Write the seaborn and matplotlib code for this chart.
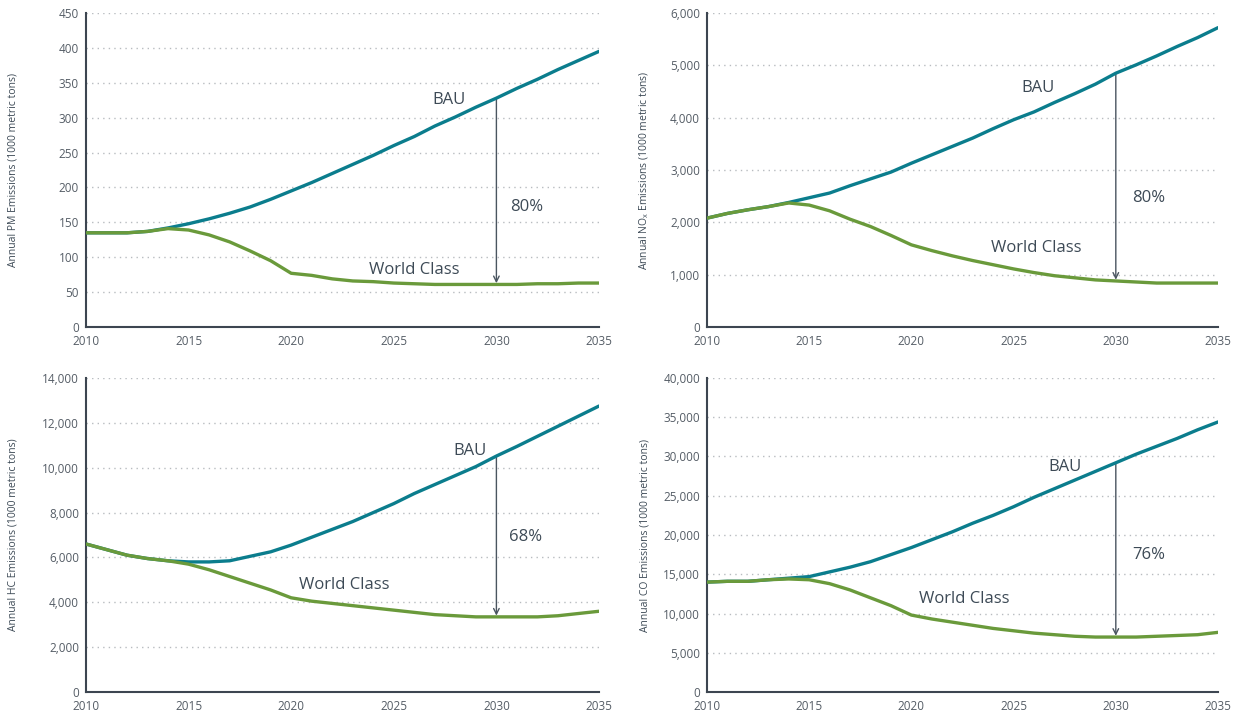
import matplotlib
matplotlib.use("Agg")
import matplotlib.pyplot as plt
import seaborn as sns
import pandas as pd
import numpy as np
from matplotlib.ticker import FuncFormatter, MultipleLocator

years = list(range(2010, 2036))

pm_bau = [135, 135, 135, 137, 142, 148, 155, 163, 172, 183, 195, 207, 220, 233, 246, 260, 273, 288, 301, 315, 328, 342, 355, 369, 382, 395]
pm_wc = [135, 135, 135, 137, 141, 139, 132, 122, 109, 95, 77, 74, 69, 66, 65, 63, 62, 61, 61, 61, 61, 61, 62, 62, 63, 63]

nox_bau = [2080, 2170, 2240, 2300, 2380, 2470, 2560, 2700, 2830, 2960, 3130, 3290, 3450, 3610, 3790, 3960, 4110, 4290, 4460, 4640, 4850, 5010, 5180, 5360, 5530, 5720]
nox_wc = [2080, 2170, 2240, 2300, 2370, 2330, 2220, 2060, 1920, 1750, 1570, 1460, 1360, 1270, 1190, 1110, 1040, 980, 940, 900, 880, 860, 840, 840, 840, 840]

hc_bau = [6600, 6350, 6100, 5950, 5850, 5800, 5800, 5850, 6050, 6250, 6550, 6900, 7250, 7600, 8000, 8400, 8850, 9250, 9650, 10050, 10520, 10950, 11400, 11850, 12300, 12750]
hc_wc = [6600, 6350, 6100, 5950, 5850, 5700, 5450, 5150, 4850, 4550, 4200, 4050, 3950, 3850, 3750, 3650, 3550, 3450, 3400, 3350, 3350, 3350, 3350, 3400, 3500, 3600]

co_bau = [14000, 14100, 14100, 14300, 14500, 14700, 15300, 15900, 16600, 17500, 18400, 19400, 20400, 21500, 22500, 23600, 24800, 25900, 27000, 28100, 29200, 30300, 31300, 32300, 33400, 34400]
co_wc = [14000, 14100, 14100, 14300, 14400, 14300, 13800, 13000, 12000, 11000, 9800, 9300, 8900, 8500, 8100, 7800, 7500, 7300, 7100, 7000, 7000, 7000, 7100, 7200, 7300, 7600]

ylabels = ["Annual PM Emissions (1000 metric tons)",
           "Annual NO$_x$ Emissions (1000 metric tons)",
           "Annual HC Emissions (1000 metric tons)",
           "Annual CO Emissions (1000 metric tons)"]
ymaxes = [450, 6000, 14000, 40000]
ysteps = [50, 1000, 2000, 5000]
pct_labels = ["80%", "80%", "68%", "76%"]
bau_label_pos = [(2027.7, 325), (2026.2, 4560), (2028.7, 10750), (2027.5, 28650)]
wc_label_pos = [(2026.0, 82), (2026.1, 1510), (2022.6, 4770), (2022.6, 11850)]
pct_label_pos = [(2031.5, 172), (2031.6, 2460), (2031.4, 6900), (2031.6, 17450)]

sns.set_theme(style="white")
plt.rcParams['font.family'] = ['Open Sans', 'DejaVu Sans']
plt.rcParams['mathtext.default'] = 'regular'

TEAL = "#0b7d8d"
GREEN = "#6a9a3b"
TEXT = "#3d4a56"
TICK = "#555d66"
SPINE = "#3d4651"
GRID = "#b8bcc0"

fig = plt.figure(figsize=(12.42, 7.14), dpi=100)
boxes = [(0.0692, 0.542, 0.4131, 0.4398),
         (0.5692, 0.542, 0.4115, 0.4398),
         (0.0692, 0.0308, 0.4131, 0.4398),
         (0.5692, 0.0308, 0.4115, 0.4398)]
ylabel_x = [-0.131, -0.110, -0.131, -0.110]

series = [(pm_bau, pm_wc), (nox_bau, nox_wc), (hc_bau, hc_wc), (co_bau, co_wc)]

for i, (bau, wc) in enumerate(series):
    ax = fig.add_axes(boxes[i])
    df = pd.DataFrame({"Year": years * 2,
                       "Emissions": bau + wc,
                       "Scenario": ["BAU"] * len(years) + ["World Class"] * len(years)})
    sns.lineplot(data=df, x="Year", y="Emissions", hue="Scenario",
                 palette={"BAU": TEAL, "World Class": GREEN},
                 linewidth=2.4, ax=ax, legend=False, zorder=3)
    ax.set_xlim(2010, 2035)
    ax.set_ylim(0, ymaxes[i])
    ax.yaxis.set_major_locator(MultipleLocator(ysteps[i]))
    ax.xaxis.set_major_locator(MultipleLocator(5))
    ax.yaxis.set_major_formatter(FuncFormatter(lambda v, p: f"{int(v):,}"))
    for y in np.arange(ysteps[i], ymaxes[i] + 1, ysteps[i]):
        ax.axhline(y, color=GRID, linestyle=(0, (1, 3)), linewidth=1, zorder=1)
    for s in ["top", "right"]:
        ax.spines[s].set_visible(False)
    for s in ["left", "bottom"]:
        ax.spines[s].set_color(SPINE)
        ax.spines[s].set_linewidth(1.5)
    ax.tick_params(axis="both", length=0, labelsize=8.5, colors=TICK)
    ax.tick_params(axis="y", pad=5)
    ax.tick_params(axis="x", pad=6)
    ax.set_xlabel("")
    ax.set_ylabel(ylabels[i], fontsize=7.5, color=TEXT)
    ax.yaxis.set_label_coords(ylabel_x[i], 0.5)

    idx = years.index(2030)
    ax.annotate("", xy=(2030, wc[idx] + ymaxes[i] * 0.004), xytext=(2030, bau[idx]),
                arrowprops=dict(arrowstyle="->", color="#4a5560", lw=1,
                                shrinkA=0, shrinkB=0, mutation_scale=10), zorder=2)
    ax.text(*bau_label_pos[i], "BAU", ha="center", va="center", fontsize=12, color=TEXT)
    ax.text(*wc_label_pos[i], "World Class", ha="center", va="center", fontsize=12, color=TEXT)
    ax.text(*pct_label_pos[i], pct_labels[i], ha="center", va="center", fontsize=12, color=TEXT)

fig.savefig("out.png", dpi=100)
